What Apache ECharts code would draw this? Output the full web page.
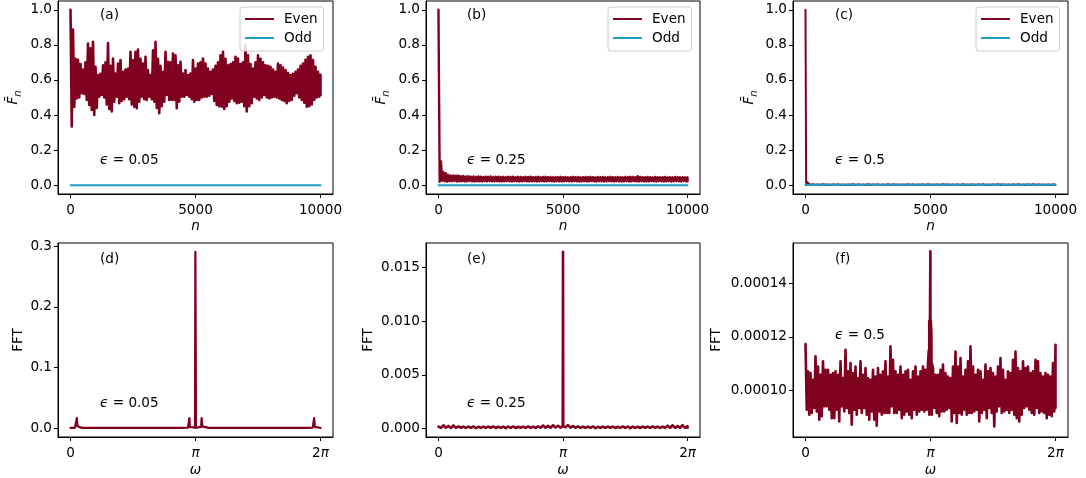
<!DOCTYPE html>
<html><head><meta charset="utf-8">
<script src="https://cdn.jsdelivr.net/npm/echarts@6/dist/echarts.min.js"></script>
<style>html,body{margin:0;padding:0;background:#fff}#c{width:1086px;height:478px}</style>
</head><body><div id="c"></div>
<script>
// ================= DATA =================
const nTicks = [0, 5000, 10000];
const fbarTicks = [0, 0.2, 0.4, 0.6, 0.8, 1.0];
const omegaTicksPi = [0, 1, 2];               // ω in units of π
const fftTicksD = [0, 0.1, 0.2, 0.3];
const fftTicksE = [0, 0.005, 0.010, 0.015];
const fftTicksF = [0.00010, 0.00012, 0.00014];
const panelLabels = ['(a)', '(b)', '(c)', '(d)', '(e)', '(f)'];
const epsValues = ['0.05', '0.25', '0.5', '0.05', '0.25', '0.5'];
const seriesNames = ['Even', 'Odd'];

// (a) eps=0.05, Even: upper / lower envelope of the oscillation, every 100 steps of n
const aEvenUpper = [1.0, 0.887, 0.72, 0.715, 0.69, 0.66, 0.70, 0.807, 0.78, 0.817,
 0.675, 0.628, 0.635, 0.684, 0.70, 0.811, 0.68, 0.722, 0.637, 0.694,
 0.713, 0.647, 0.66, 0.665, 0.76, 0.713, 0.76, 0.773, 0.72, 0.694,
 0.732, 0.656, 0.628, 0.769, 0.817, 0.72, 0.68, 0.647, 0.76, 0.703,
 0.70, 0.75, 0.741, 0.684, 0.703, 0.637, 0.656, 0.628, 0.637, 0.713,
 0.665, 0.694, 0.70, 0.722, 0.694, 0.665, 0.647, 0.66, 0.68, 0.70,
 0.741, 0.760, 0.72, 0.684, 0.69, 0.70, 0.732, 0.722, 0.69, 0.70,
 0.798, 0.741, 0.69, 0.665, 0.70, 0.741, 0.72, 0.70, 0.684, 0.68,
 0.675, 0.66, 0.647, 0.694, 0.684, 0.67, 0.656, 0.64, 0.628, 0.635,
 0.647, 0.66, 0.68, 0.694, 0.715, 0.732, 0.741, 0.713, 0.675, 0.647,
 0.63];
const aEvenLower = [0.335, 0.448, 0.495, 0.50, 0.524, 0.52, 0.486, 0.457, 0.429, 0.401,
 0.44, 0.505, 0.514, 0.50, 0.46, 0.435, 0.42, 0.476, 0.505, 0.467,
 0.48, 0.49, 0.505, 0.49, 0.46, 0.448, 0.439, 0.476, 0.505, 0.49,
 0.486, 0.505, 0.49, 0.476, 0.44, 0.41, 0.45, 0.476, 0.514, 0.486,
 0.486, 0.486, 0.439, 0.476, 0.505, 0.505, 0.514, 0.505, 0.49, 0.476,
 0.486, 0.486, 0.50, 0.505, 0.505, 0.51, 0.52, 0.48, 0.457, 0.45,
 0.448, 0.435, 0.45, 0.476, 0.495, 0.48, 0.467, 0.47, 0.476, 0.45,
 0.420, 0.45, 0.467, 0.505, 0.495, 0.486, 0.50, 0.514, 0.50, 0.495,
 0.50, 0.505, 0.50, 0.495, 0.486, 0.48, 0.467, 0.48, 0.486, 0.51,
 0.524, 0.50, 0.486, 0.47, 0.448, 0.45, 0.46, 0.486, 0.50, 0.505,
 0.514];
const aOddN = [0, 10000];
const aOddVal = [0.0, 0.0];

// (b) eps=0.25, Even envelope every 100 steps of n
const bEvenUpper = [1.0, 0.136, 0.075, 0.068, 0.058, 0.055, 0.056, 0.054, 0.055, 0.052,
 0.053, 0.050, 0.051, 0.049, 0.050, 0.048, 0.050, 0.049, 0.047, 0.049,
 0.048, 0.050, 0.047, 0.048, 0.049, 0.047, 0.048, 0.046, 0.048, 0.047,
 0.049, 0.046, 0.048, 0.047, 0.046, 0.048, 0.047, 0.049, 0.046, 0.047,
 0.048, 0.046, 0.047, 0.048, 0.046, 0.047, 0.045, 0.047, 0.046, 0.048,
 0.046, 0.047, 0.045, 0.046, 0.048, 0.046, 0.047, 0.045, 0.046, 0.047,
 0.046, 0.048, 0.046, 0.045, 0.047, 0.046, 0.047, 0.045, 0.046, 0.048,
 0.046, 0.045, 0.047, 0.046, 0.045, 0.047, 0.046, 0.048, 0.047, 0.046,
 0.051, 0.047, 0.046, 0.045, 0.047, 0.046, 0.045, 0.047, 0.046, 0.045,
 0.046, 0.047, 0.045, 0.046, 0.045, 0.047, 0.046, 0.045, 0.046, 0.045,
 0.045];
const bEvenLower = [0.02, 0.025, 0.022, 0.021, 0.023, 0.022, 0.024, 0.021, 0.022, 0.023,
 0.021, 0.022, 0.024, 0.022, 0.021, 0.023, 0.022, 0.021, 0.023, 0.022,
 0.024, 0.022, 0.021, 0.023, 0.022, 0.021, 0.022, 0.024, 0.022, 0.021,
 0.023, 0.022, 0.021, 0.022, 0.024, 0.022, 0.021, 0.023, 0.022, 0.021,
 0.022, 0.023, 0.021, 0.022, 0.024, 0.022, 0.021, 0.023, 0.022, 0.021,
 0.022, 0.024, 0.022, 0.021, 0.023, 0.022, 0.021, 0.022, 0.023, 0.021,
 0.022, 0.024, 0.022, 0.021, 0.023, 0.022, 0.021, 0.022, 0.024, 0.022,
 0.021, 0.023, 0.022, 0.021, 0.022, 0.023, 0.021, 0.022, 0.024, 0.022,
 0.021, 0.023, 0.022, 0.021, 0.022, 0.024, 0.022, 0.021, 0.023, 0.022,
 0.021, 0.022, 0.023, 0.021, 0.022, 0.024, 0.022, 0.021, 0.023, 0.022,
 0.023];
const bOddN = [0, 10000];
const bOddVal = [0.0, 0.0];

// (c) eps=0.5
const cEvenStartN = [0, 25, 60];
const cEvenStartVal = [1.0, 0.0, 0.018];
const cEvenUpper = [0.008, 0.006, 0.005, 0.006, 0.004, 0.005, 0.006, 0.005, 0.004, 0.006,
 0.005, 0.004, 0.006, 0.005, 0.005, 0.004, 0.006, 0.005, 0.004, 0.005,
 0.006, 0.005, 0.004, 0.005, 0.006, 0.004, 0.005, 0.006, 0.005, 0.004,
 0.005, 0.006, 0.004, 0.005, 0.005, 0.006, 0.004, 0.005, 0.006, 0.005,
 0.004, 0.005, 0.006, 0.004, 0.005, 0.006, 0.005, 0.004, 0.005, 0.005];
const cEvenLower = [0.001, 0.002, 0.001, 0.002, 0.001, 0.002, 0.001, 0.001, 0.002, 0.001,
 0.002, 0.001, 0.001, 0.002, 0.001, 0.002, 0.001, 0.002, 0.001, 0.001,
 0.002, 0.001, 0.002, 0.001, 0.001, 0.002, 0.001, 0.002, 0.001, 0.002,
 0.001, 0.001, 0.002, 0.001, 0.002, 0.001, 0.001, 0.002, 0.001, 0.002,
 0.001, 0.002, 0.001, 0.001, 0.002, 0.001, 0.002, 0.001, 0.001, 0.002];
const cOddUpper = [0.005, 0.005, 0.004, 0.005, 0.006, 0.004, 0.005, 0.005, 0.004, 0.006,
 0.005, 0.004, 0.005, 0.006, 0.005, 0.004, 0.005, 0.005, 0.006, 0.004,
 0.005, 0.005, 0.004, 0.006, 0.005, 0.004, 0.005, 0.005, 0.006, 0.004,
 0.005, 0.004, 0.005, 0.006, 0.005, 0.004, 0.005, 0.005, 0.004, 0.006,
 0.005, 0.004, 0.005, 0.005, 0.006, 0.004, 0.005, 0.005, 0.004, 0.005,
 0.005];
const cOddLower = [0.001, 0.0005, 0.001, 0.0005, 0.001, 0.001, 0.0005, 0.001, 0.0005, 0.001,
 0.001, 0.0005, 0.001, 0.0005, 0.001, 0.001, 0.0005, 0.001, 0.0005, 0.001,
 0.001, 0.0005, 0.001, 0.0005, 0.001, 0.001, 0.0005, 0.001, 0.0005, 0.001,
 0.001, 0.0005, 0.001, 0.0005, 0.001, 0.001, 0.0005, 0.001, 0.0005, 0.001,
 0.001, 0.0005, 0.001, 0.0005, 0.001, 0.001, 0.0005, 0.001, 0.0005, 0.001,
 0.001];

// (d) FFT eps=0.05 : ω/π and value
const dOmegaPi = [0, 0.035, 0.045, 0.051, 0.056, 0.062, 0.09, 0.093, 0.096, 0.136, 0.139, 0.142,
 0.864, 0.867, 0.870, 0.890, 0.893, 0.896, 0.94, 0.946, 0.951, 0.955,
 0.996, 0.999, 1.001, 1.004, 1.045, 1.049, 1.054, 1.06,
 1.104, 1.107, 1.110, 1.138, 1.141, 1.144, 1.861, 1.864, 1.867, 1.887, 1.890, 1.893,
 1.938, 1.944, 1.949, 1.955, 1.965, 2.0];
const dFFT = [0.0005, 0.0005, 0.002, 0.0165, 0.003, 0.001, 0.0005, 0.0025, 0.0005, 0.0005, 0.0025, 0.0005,
 0.0005, 0.0025, 0.0005, 0.0005, 0.0025, 0.0005, 0.0008, 0.003, 0.0165, 0.002,
 0.0006, 0.291, 0.291, 0.0006, 0.002, 0.0165, 0.003, 0.0008,
 0.0005, 0.0025, 0.0005, 0.0005, 0.0025, 0.0005, 0.0005, 0.0025, 0.0005, 0.0005, 0.0025, 0.0005,
 0.001, 0.003, 0.0165, 0.002, 0.0005, 0.0005];

// (e) FFT eps=0.25 : envelope every 0.04π, in units of 1e-4
const eUnit = 1e-4;
const eUpper = [2.0, 3.2, 2.6, 3.0, 2.2, 2.0, 1.9, 2.1, 1.8, 2.0, 1.9, 2.2, 1.8, 2.0, 1.9, 2.1, 1.8, 2.0, 2.2, 1.9,
 2.3, 3.0, 2.6, 3.2, 2.8, 3.0, 3.4, 2.5, 2.2, 2.0, 1.9, 2.1, 1.8, 2.0, 1.9, 2.0, 1.8, 2.1, 1.9, 2.0,
 1.8, 2.0, 1.9, 2.1, 2.0, 2.0, 2.8, 3.2, 2.6, 3.3, 2.4];
const eLower = [0.8, 0.9, 0.7, 0.8, 0.9, 0.7, 0.8, 0.6, 0.8, 0.7, 0.9, 0.7, 0.8, 0.6, 0.8, 0.7, 0.9, 0.7, 0.8, 0.7,
 0.9, 1.0, 0.9, 1.1, 1.0, 1.2, 1.0, 0.9, 0.8, 0.7, 0.8, 0.6, 0.8, 0.7, 0.9, 0.7, 0.8, 0.7, 0.6, 0.8,
 0.7, 0.9, 0.7, 0.8, 0.7, 0.8, 0.9, 0.8, 0.9, 0.8, 0.9];
const eSpikeOmegaPi = [0.998, 1.0, 1.002];
const eSpikeVal = [2.5, 164.5, 2.5];

// (f) FFT eps=0.5 : envelope every 0.02π, in units of 1e-5
const fUnit = 1e-5;
const fUpper = [11.73, 10.72, 10.66, 10.41, 11.28, 10.90, 10.59, 11.09, 10.78, 10.78,
 10.59, 10.66, 10.72, 10.59, 11.09, 10.47, 11.52, 10.72, 11.03, 10.66,
 10.90, 10.47, 11.09, 10.59, 10.84, 10.47, 10.41, 10.78, 10.53, 10.84,
 10.59, 10.72, 11.09, 10.53, 11.65, 11.15, 10.72, 10.59, 10.90, 10.59,
 10.72, 10.78, 10.41, 10.72, 10.90, 10.53, 10.72, 10.90, 10.78, 11.03,
 11.00, 10.84, 10.59, 10.59, 10.78, 10.97, 10.66, 10.53, 10.47, 10.90,
 11.46, 10.90, 11.21, 10.53, 10.78, 11.09, 11.65, 10.90, 10.59, 10.78,
 10.72, 10.41, 10.97, 10.72, 10.84, 10.66, 10.53, 10.90, 11.21, 10.78,
 10.41, 10.72, 10.66, 11.15, 11.46, 10.84, 10.72, 11.09, 10.84, 10.90,
 10.66, 10.72, 11.15, 11.09, 10.66, 10.53, 10.66, 10.59, 10.53, 11.03,
 11.71];
const fLower = [9.29, 9.11, 9.17, 9.36, 9.23, 8.92, 9.05, 9.42, 9.42, 9.29,
 8.98, 8.98, 9.29, 8.86, 9.42, 9.23, 9.36, 9.17, 8.74, 9.29,
 9.11, 9.36, 9.17, 9.36, 9.11, 8.92, 9.23, 8.92, 8.70, 9.23,
 9.11, 9.17, 9.17, 9.17, 9.42, 9.17, 9.17, 9.29, 8.98, 9.11,
 9.23, 9.11, 8.98, 9.29, 9.11, 9.23, 9.29, 9.23, 9.29, 9.11,
 9.11, 9.36, 9.17, 9.05, 9.23, 9.23, 9.29, 9.36, 8.86, 9.17,
 8.80, 9.17, 9.11, 9.29, 9.11, 9.17, 9.17, 9.23, 9.29, 8.86,
 9.17, 9.29, 8.98, 9.36, 9.17, 8.67, 9.23, 9.42, 9.17, 9.23,
 9.29, 9.17, 9.29, 9.11, 8.98, 8.86, 9.11, 9.36, 9.42, 9.29,
 9.17, 9.11, 9.36, 9.17, 9.23, 9.17, 8.98, 9.11, 9.05, 9.23,
 9.36];
const fSpikeOmegaPi = [0.986, 0.99, 0.995, 0.999, 1.002, 1.007, 1.012];
const fSpikeVal = [11.5, 12.6, 12.3, 15.18, 12.6, 12.2, 11.0];

// ================= BUILD =================
const PI = Math.PI;
const FONT = 'DejaVu Sans';
const FS = 13.6;
const RED = '#800020';
const TEAL = '#1b9ec4';

// oscillating signal drawn as alternation between read upper and lower values
function band(upper, lower, step, x0, xMax) {
  const out = [];
  for (let k = 0; k < upper.length; k++) {
    const x = x0 + k * step;
    out.push([Math.min(x, xMax), upper[k]]);
    out.push([Math.min(x + step / 2, xMax), lower[k]]);
  }
  return out;
}
const zip = (xs, ys) => xs.map((x, i) => [x, ys[i]]);
const byX = (a, b) => a[0] - b[0];

const aEven = band(aEvenUpper, aEvenLower, 100, 0, 10000);
const aOdd = zip(aOddN, aOddVal);
const bEven = band(bEvenUpper, bEvenLower, 100, 0, 10000);
const bOdd = zip(bOddN, bOddVal);
const cEven = zip(cEvenStartN, cEvenStartVal).concat(band(cEvenUpper, cEvenLower, 200, 100, 10000));
const cOdd = band(cOddUpper, cOddLower, 200, 0, 10000);
const dData = zip(dOmegaPi, dFFT).map(([w, v]) => [w * PI, v]);
const eData = band(eUpper, eLower, 0.04, 0, 2).concat(zip(eSpikeOmegaPi, eSpikeVal))
  .sort(byX).map(([w, v]) => [w * PI, v * eUnit]);
const fData = band(fUpper, fLower, 0.02, 0, 2).concat(zip(fSpikeOmegaPi, fSpikeVal))
  .sort(byX).map(([w, v]) => [w * PI, v * fUnit]);

const grids = [
  { left: 58, top: 1, width: 275, height: 193 },
  { left: 426, top: 1, width: 274, height: 193 },
  { left: 793, top: 1, width: 275, height: 193 },
  { left: 58, top: 243, width: 275, height: 194 },
  { left: 426, top: 243, width: 274, height: 194 },
  { left: 793, top: 243, width: 275, height: 194 }
].map(g => Object.assign(g, { show: true, borderColor: '#000', borderWidth: 1, backgroundColor: 'transparent', containLabel: false, outerBoundsMode: 'none' }));

const txt = { fontSize: FS, fontFamily: FONT, color: '#000' };
const italic = { fontSize: FS, fontFamily: FONT, color: '#000', fontStyle: 'italic' };

function piLabel(v) {
  const r = v / PI;
  if (Math.abs(r) < 1e-6) return '0';
  if (Math.abs(r - 1) < 1e-6) return '{i|π}';
  return '2{i|π}';
}

const xAxes = [];
for (let i = 0; i < 6; i++) {
  const top = i < 3;
  const ticks = top ? nTicks : omegaTicksPi.map(t => t * PI);
  xAxes.push({
    gridIndex: i, type: 'value',
    min: top ? -500 : -0.1 * PI, max: top ? 10500 : 2.1 * PI,
    axisLine: { show: true, onZero: false, lineStyle: { color: '#000', width: 1 } },
    axisTick: { show: true, customValues: ticks, length: 4, lineStyle: { color: '#000' } },
    axisLabel: Object.assign({ customValues: ticks, margin: 9,
      formatter: top ? (v => String(v)) : piLabel,
      rich: { i: italic } }, txt),
    splitLine: { show: false },
    name: top ? 'n' : 'ω', nameLocation: 'middle', nameGap: top ? 25 : 26,
    nameTextStyle: italic
  });
}

const yLims = [[-0.05, 1.05], [-0.05, 1.05], [-0.05, 1.05], [-0.0146, 0.3055], [-0.00077, 0.01727], [0.0000828, 0.0001549]];
const yTicks = [fbarTicks, fbarTicks, fbarTicks, fftTicksD, fftTicksE, fftTicksF];
const yDec = [1, 1, 1, 1, 3, 5];
const yGap = [35, 35, 34, 33, 51, 70];
const yAxes = [];
for (let i = 0; i < 6; i++) {
  const top = i < 3;
  yAxes.push({
    gridIndex: i, type: 'value', min: yLims[i][0], max: yLims[i][1],
    axisLine: { show: true, onZero: false, lineStyle: { color: '#000', width: 1 } },
    axisTick: { show: true, customValues: yTicks[i], length: 4, lineStyle: { color: '#000' } },
    axisLabel: Object.assign({ customValues: yTicks[i], margin: 6, formatter: (v => v.toFixed(yDec[i])) }, txt),
    splitLine: { show: false },
    name: top ? '{f|F\u0304}{s|n}' : 'FFT', nameLocation: 'middle', nameRotate: 90, nameGap: yGap[i],
    nameTextStyle: Object.assign({}, txt, {
      rich: {
        f: italic,
        s: { fontSize: 10, fontFamily: FONT, color: '#000', fontStyle: 'italic', padding: [9, 0, 0, 0] }
      }
    })
  });
}

const lineBase = { type: 'line', symbol: 'none', showSymbol: false, animation: false, clip: true };
const mk = (name, i, data, color, w) => Object.assign({}, lineBase, {
  name, xAxisIndex: i, yAxisIndex: i, data, z: name === 'Odd' ? 3 : 2,
  lineStyle: { color, width: w, join: 'round', cap: 'round' }, itemStyle: { color }
});
const series = [
  mk(seriesNames[0], 0, aEven, RED, 2.6), mk(seriesNames[1], 0, aOdd, TEAL, 1.8),
  mk(seriesNames[0], 1, bEven, RED, 2.4), mk(seriesNames[1], 1, bOdd, TEAL, 1.8),
  mk(seriesNames[0], 2, cEven, RED, 2.0), mk(seriesNames[1], 2, cOdd, TEAL, 2.0),
  mk('FFT', 3, dData, RED, 2.2), mk('FFT', 4, eData, RED, 2.6), mk('FFT', 5, fData, RED, 2.6)
];

const legendLeft = [240, 608, 976];
const legends = legendLeft.map(l => ({
  data: seriesNames, orient: 'vertical', left: l, top: 7, icon: 'rect',
  itemWidth: 29, itemHeight: 2, itemGap: 5, padding: [5, 6, 6, 5],
  borderColor: '#cccccc', borderWidth: 1, borderRadius: 3, backgroundColor: 'rgba(255,255,255,0.85)',
  selectedMode: false,
  textStyle: { fontSize: FS, fontFamily: FONT, color: '#000', padding: [0, 0, 0, 5] }
}));

const labelPos = [[100, 15.7, 160.7], [467, 15.7, 160.7], [835, 15.7, 160.7],
                  [100, 259, 403.3], [467, 259, 403.3], [835, 259, 335.7]];
const graphics = [];
labelPos.forEach((p, i) => {
  graphics.push({ type: 'text', x: p[0], y: p[1], silent: true, z: 100,
    style: { text: panelLabels[i], fontSize: FS, fontFamily: FONT, fill: '#000', verticalAlign: 'middle' } });
  graphics.push({ type: 'text', x: p[0], y: p[2], silent: true, z: 100,
    style: { text: '{i|ϵ} = ' + epsValues[i], fontSize: FS, fontFamily: FONT, fill: '#000', verticalAlign: 'middle',
      rich: { i: { fontSize: FS, fontFamily: FONT, fill: '#000', fontStyle: 'italic' } } } });
});

const chart = echarts.init(document.getElementById('c'), null, { renderer: 'canvas' });
chart.setOption({
  animation: false,
  backgroundColor: '#fff',
  grid: grids,
  xAxis: xAxes,
  yAxis: yAxes,
  legend: legends,
  series: series,
  graphic: graphics
});
</script></body></html>
